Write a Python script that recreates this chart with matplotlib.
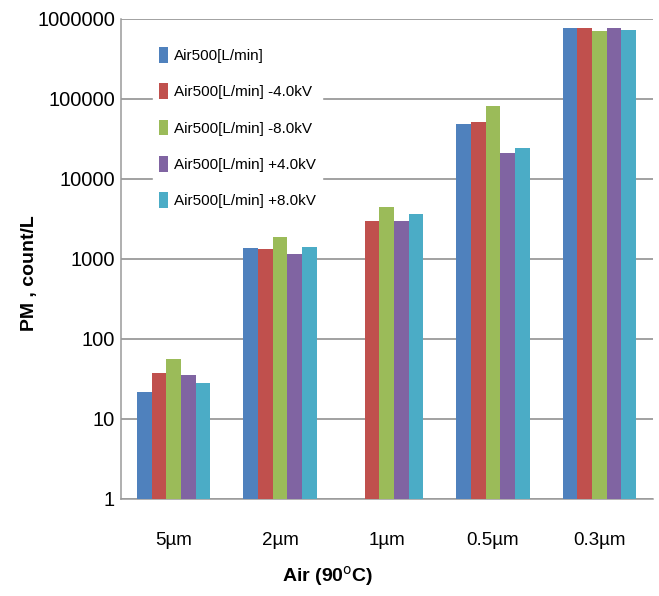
import numpy as np
import matplotlib
matplotlib.use('Agg')
import matplotlib.pyplot as plt

# particle size bins and measured counts per series
sizes = ['5µm', '2µm', '1µm', '0.5µm', '0.3µm']
series_names = ['Air500[L/min]', 'Air500[L/min] -4.0kV', 'Air500[L/min] -8.0kV',
                'Air500[L/min] +4.0kV', 'Air500[L/min] +8.0kV']
air500 = [21.5, 1385, 0, 48700, 763000]
minus4kv = [38, 1345, 2985, 51600, 763000]
minus8kv = [56, 1860, 4510, 81700, 714000]
plus4kv = [35, 1165, 2985, 21300, 763000]
plus8kv = [28, 1425, 3650, 24600, 735000]
yticks = [1, 10, 100, 1000, 10000, 100000, 1000000]

colors = ['#4F81BD', '#C0504D', '#9BBB59', '#8064A2', '#4BACC6']

plt.rcParams['font.family'] = ['Liberation Sans', 'DejaVu Sans']

fig = plt.figure(figsize=(6.59, 5.96), dpi=100)
ax = fig.add_axes([0.1829, 0.1628, 0.8073, 0.8054])

x = np.arange(len(sizes))
width = 0.138
all_series = [air500, minus4kv, minus8kv, plus4kv, plus8kv]
for i, (vals, name, c) in enumerate(zip(all_series, series_names, colors)):
    ax.bar(x + (i - 2) * width, vals, width, color=c, label=name, zorder=3)

ax.set_yscale('log')
ax.set_ylim(1, 1000000)
ax.set_xlim(-0.5, len(sizes) - 0.5)
ax.set_yticks(yticks)
ax.set_yticklabels([str(v) for v in yticks], fontsize=14.5)
ax.minorticks_off()
ax.set_xticks(x)
ax.set_xticklabels(sizes, fontsize=13.5)
ax.tick_params(axis='both', length=0)
ax.tick_params(axis='y', pad=4)
ax.tick_params(axis='x', pad=24)

ax.yaxis.grid(True, color='#878787', linewidth=1.1, zorder=0)
for side in ['top', 'right']:
    ax.spines[side].set_visible(False)
for side in ['left', 'bottom']:
    ax.spines[side].set_color('#9a9a9a')
    ax.spines[side].set_linewidth(1.1)

ax.set_ylabel('PM , count/L', fontsize=14, fontweight='bold')
ax.yaxis.set_label_coords(-0.155, 0.47)
ax.set_xlabel('Air (90$^{\\rm o}$C)', fontsize=14, fontweight='bold')
ax.xaxis.set_label_coords(0.39, -0.135)

leg = ax.legend(loc='upper left', bbox_to_anchor=(0.047, 0.97), fontsize=11,
                frameon=True, framealpha=1, edgecolor='white', fancybox=False,
                handlelength=0.55, handleheight=1.2, handletextpad=0.4,
                labelspacing=1.33, borderpad=0.4)
leg.set_zorder(5)

fig.savefig('out.png', dpi=100)
